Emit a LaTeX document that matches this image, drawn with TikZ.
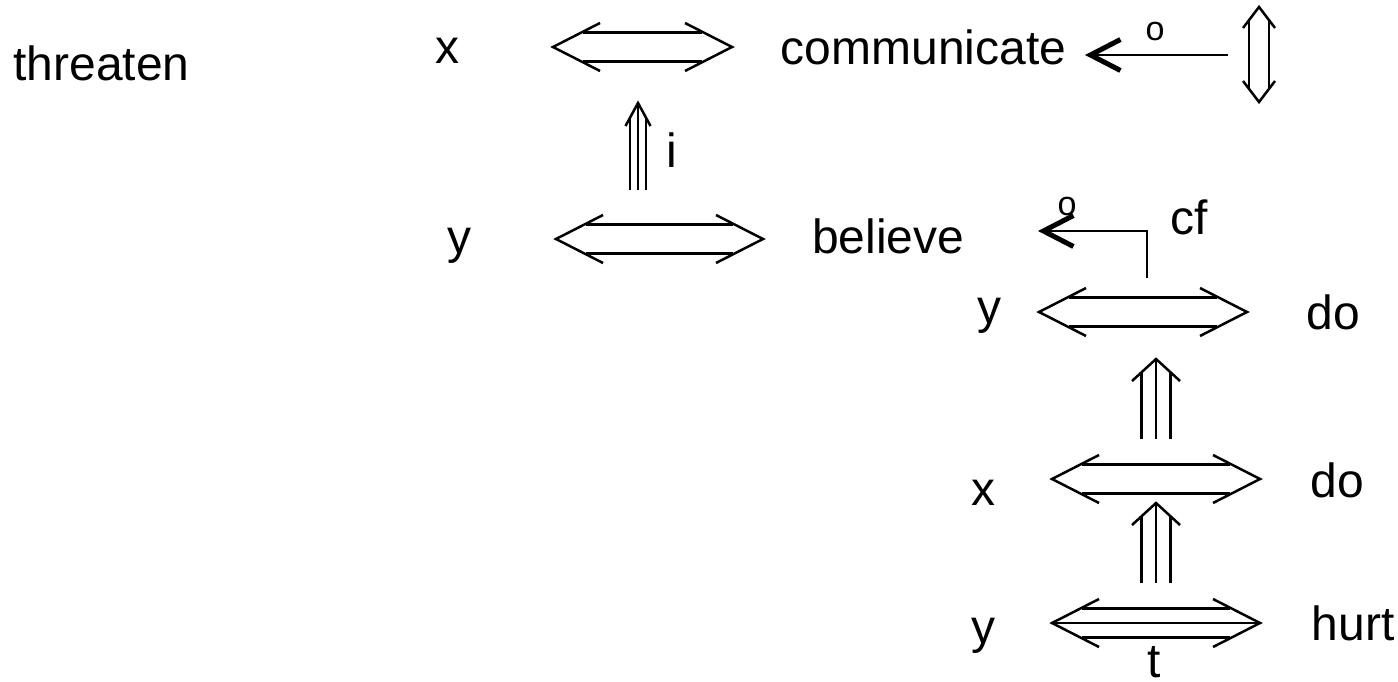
\documentclass[tikz,border=0pt]{standalone}
\usepackage{fontspec}
\setmainfont{Liberation Sans}
\usetikzlibrary{arrows.meta}
% two-rail link with open barbs at both ends (#1 left tip, #2 right tip)
\newcommand{\actlink}[2]{%
 \draw[rail] ([shift={(47,-24)}]#1) -- (#1) -- ([shift={(47,24)}]#1);
 \draw[rail] ([shift={(-47,-24)}]#2) -- (#2) -- ([shift={(-47,24)}]#2);
 \draw[rail] ([shift={(30,-14.5)}]#1) -- ([shift={(-30,-14.5)}]#2);
 \draw[rail] ([shift={(30,14.5)}]#1) -- ([shift={(-30,14.5)}]#2);}
% three-rail upward arrow (#1 foot, #2 tip, #3 rail gap, #4 barb half width, #5 barb length)
\newcommand{\causal}[5]{%
 \draw[rail] (#1) -- (#2);
 \draw[rail] ([shift={(-#3,0)}]#1) -- ([shift={({-#3},{#3*#5/#4})}]#2);
 \draw[rail] ([shift={(#3,0)}]#1) -- ([shift={({#3},{#3*#5/#4})}]#2);
 \draw[rail] ([shift={(-#4,#5)}]#2) -- (#2) -- ([shift={(#4,#5)}]#2);}

\begin{document}
\begin{tikzpicture}[x=0.02cm,y=-0.02cm,
 lbl/.style={inner sep=0pt,anchor=base,font=\fontsize{27.3}{32}\selectfont},
 tag/.style={inner sep=0pt,font=\fontsize{19.4}{22}\selectfont},
 rail/.style={line width=0.05cm},
 olink/.style={line width=0.04cm,-{Straight Barb[length=0.6cm,width=0.62cm,line width=0.1cm]}}]
\useasboundingbox (0,0) rectangle (1398,682);

% labels
\node[lbl] (threaten) at (101.5,81) {threaten};
\node[lbl] (x1) at (447,64) {x};
\node[lbl] (comm) at (923.5,65) {communicate};
\node[lbl] (y1) at (459,253) {y};
\node[lbl] (believe) at (888,253) {believe};
\node[lbl] (labi) at (672,168) {i};
\node[lbl] (labcf) at (1189,235) {cf};
\node[lbl] (y2) at (989,323) {y};
\node[lbl] (do1) at (1333,329) {do};
\node[lbl] (x2) at (983,505) {x};
\node[lbl] (do2) at (1337,497) {do};
\node[lbl] (y3) at (983,643) {y};
\node[lbl] (hurt) at (1353,640) {hurt};
\node[lbl] (labt) at (1154,677) {t};
\node[tag] (o1) at (1155,31) {o};
\node[tag] (o2) at (1067,206) {o};

% link end points
\coordinate (comml) at (553,47);   \coordinate (commr) at (732,47);
\coordinate (bell) at (556,239);   \coordinate (belr) at (763,239);
\coordinate (do1l) at (1039,312);  \coordinate (do1r) at (1247,312);
\coordinate (do2l) at (1052,479);  \coordinate (do2r) at (1260,479);
\coordinate (hurtl) at (1052,623); \coordinate (hurtr) at (1260,623);
\coordinate (ifoot) at (638,190);  \coordinate (itip) at (638,103);
\coordinate (c1foot) at (1156,439); \coordinate (c1tip) at (1156,359);
\coordinate (c2foot) at (1156,583); \coordinate (c2tip) at (1156,503);
\coordinate (vtop) at (1259,7);    \coordinate (vbot) at (1259,102);
\coordinate (o1from) at (1228,55); \coordinate (o1to) at (1085,55);
\coordinate (cffrom) at (1147,278); \coordinate (cfto) at (1038,231);

\actlink{comml}{commr}
\actlink{bell}{belr}
\actlink{do1l}{do1r}
\actlink{do2l}{do2r}
\actlink{hurtl}{hurtr}
\draw[rail] (hurtl) -- (hurtr);

\causal{ifoot}{itip}{8}{12.5}{23}
\causal{c1foot}{c1tip}{14.5}{24}{22}
\causal{c2foot}{c2tip}{14.5}{24}{22}

% two-way double arrow
\draw[rail] ([shift={(-16,21)}]vtop) -- (vtop) -- ([shift={(16,21)}]vtop);
\draw[rail] ([shift={(-16,-21)}]vbot) -- (vbot) -- ([shift={(16,-21)}]vbot);
\draw[rail] ([shift={(-10,13)}]vtop) -- ([shift={(-10,-13)}]vbot);
\draw[rail] ([shift={(10,13)}]vtop) -- ([shift={(10,-13)}]vbot);

\draw[olink] (o1from) -- (o1to);
\draw[olink] (cffrom) |- (cfto);
\end{tikzpicture}
\end{document}
